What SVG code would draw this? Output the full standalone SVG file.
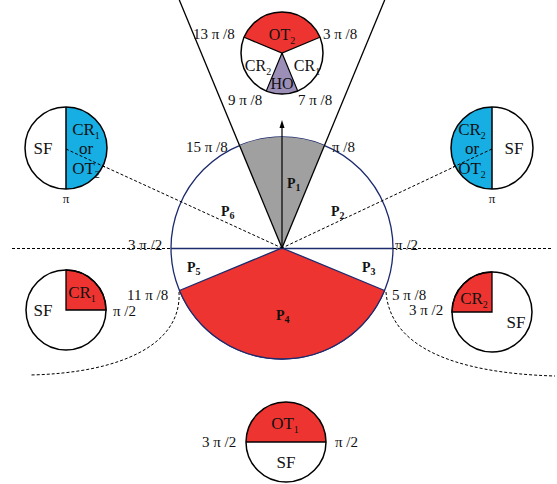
<svg xmlns="http://www.w3.org/2000/svg" width="557" height="484" viewBox="0 0 557 484">
<defs>
<style>
text{font-family:"Liberation Serif","Times New Roman",serif;fill:#111}
.ang{font-size:15px}
.lbl{font-size:17px}
.tl{font-size:16px}
.p{font-size:14px;font-weight:bold}
.sub{font-size:10px}
.ol{fill:none;stroke:#000;stroke-width:1.5}
.dash{fill:none;stroke:#000;stroke-width:1;stroke-dasharray:3,2}
.navy{stroke:#1c2a6e;stroke-width:1.3}
</style>
<marker id="ah" markerWidth="8" markerHeight="8" refX="4" refY="4" orient="auto" markerUnits="userSpaceOnUse">
<path d="M0,1.5 L8,4 L0,6.5 Z" fill="#000"/>
</marker>
</defs>
<rect width="557" height="484" fill="#fff"/>

<g id="main">
<circle cx="282" cy="248" r="111" fill="#fff" class="navy"/>
<path d="M282,248 L239.52,145.45 A111,111 0 0 1 324.48,145.45 Z" fill="#a0a0a0"/>
<path d="M282,248 L384.55,290.48 A111,111 0 0 1 179.45,290.48 Z" fill="#ee3430" class="navy"/>
<line x1="171" y1="248.5" x2="393" y2="248.5" class="navy"/>
<text class="p" x="287" y="188">P<tspan class="sub" dy="3">1</tspan></text>
<text class="p" x="331" y="216">P<tspan class="sub" dy="3">2</tspan></text>
<text class="p" x="362" y="272">P<tspan class="sub" dy="3">3</tspan></text>
<text class="p" x="276" y="320">P<tspan class="sub" dy="3">4</tspan></text>
<text class="p" x="187" y="272">P<tspan class="sub" dy="3">5</tspan></text>
<text class="p" x="221" y="216">P<tspan class="sub" dy="3">6</tspan></text>
</g>

<g id="connectors">
<line x1="282" y1="248" x2="179.3" y2="0" stroke="#000" stroke-width="1.3"/>
<line x1="282" y1="248" x2="384.7" y2="0" stroke="#000" stroke-width="1.3"/>
<line x1="282" y1="248" x2="282" y2="124" stroke="#000" stroke-width="1.2" marker-end="url(#ah)"/>
<line x1="12" y1="248.5" x2="171" y2="248.5" class="dash"/>
<line x1="393" y1="248.5" x2="553" y2="248.5" class="dash"/>
<path d="M179,292 C182,345 120,373 30,375" class="dash"/>
<path d="M386,292 C390,345 450,373 555,376" class="dash"/>
<line x1="66" y1="149" x2="282" y2="248" class="dash"/>
<line x1="492" y1="149" x2="282" y2="248" class="dash"/>
</g>

<g id="top-circle">
<circle cx="282" cy="53" r="41" fill="#fff"/>
<path d="M282,53 L244.12,37.31 A41,41 0 0 1 319.88,37.31 Z" fill="#ee3430"/>
<path d="M282,53 L297.69,90.88 A41,41 0 0 1 266.31,90.88 Z" fill="#9b8fb8"/>
<path d="M244.12,37.31 L282,53 L319.88,37.31 M282,53 L297.69,90.88 M282,53 L266.31,90.88" fill="none" stroke="#000" stroke-width="1.2"/>
<circle cx="282" cy="53" r="41" class="ol"/>
<text class="tl" x="282" y="40" text-anchor="middle">OT<tspan class="sub" dy="4">2</tspan></text>
<text class="tl" x="258" y="71" text-anchor="middle">CR<tspan class="sub" dy="4">2</tspan></text>
<text class="tl" x="307" y="71" text-anchor="middle">CR<tspan class="sub" dy="4">1</tspan></text>
<text class="tl" x="282" y="89" text-anchor="middle">HO</text>
</g>

<g id="left-circle">
<circle cx="66" cy="148" r="41" fill="#fff"/>
<path d="M66,107 A41,41 0 0 1 66,189 Z" fill="#16aee3"/>
<line x1="66" y1="107" x2="66" y2="189" stroke="#000" stroke-width="1.5"/>
<line x1="66" y1="149" x2="107" y2="168" class="dash"/>
<circle cx="66" cy="148" r="41" class="ol"/>
<text class="lbl" x="43" y="154" text-anchor="middle">SF</text>
<text class="lbl" x="86" y="135" text-anchor="middle">CR<tspan class="sub" dy="4">1</tspan></text>
<text class="lbl" x="86" y="154" text-anchor="middle">or</text>
<text class="lbl" x="86" y="174" text-anchor="middle">OT<tspan class="sub" dy="4">2</tspan></text>
<text x="66" y="203" text-anchor="middle" style="font-size:13px">π</text>
</g>

<g id="right-circle">
<circle cx="492" cy="148" r="41" fill="#fff"/>
<path d="M492,107 A41,41 0 0 0 492,189 Z" fill="#16aee3"/>
<line x1="492" y1="107" x2="492" y2="189" stroke="#000" stroke-width="1.5"/>
<line x1="492" y1="149" x2="451" y2="168" class="dash"/>
<circle cx="492" cy="148" r="41" class="ol"/>
<text class="lbl" x="514" y="154" text-anchor="middle">SF</text>
<text class="lbl" x="472" y="135" text-anchor="middle">CR<tspan class="sub" dy="4">2</tspan></text>
<text class="lbl" x="472" y="154" text-anchor="middle">or</text>
<text class="lbl" x="472" y="174" text-anchor="middle">OT<tspan class="sub" dy="4">2</tspan></text>
<text x="492" y="203" text-anchor="middle" style="font-size:13px">π</text>
</g>

<g id="bottom-left-circle">
<circle cx="66" cy="310" r="40" fill="#fff"/>
<path d="M66,310 L66,270 A40,40 0 0 1 106,310 Z" fill="#ee3430" stroke="#000" stroke-width="1.3"/>
<circle cx="66" cy="310" r="40" class="ol"/>
<text class="lbl" x="43" y="316" text-anchor="middle">SF</text>
<text class="lbl" x="82" y="298" text-anchor="middle">CR<tspan class="sub" dy="4">1</tspan></text>
</g>

<g id="bottom-right-circle">
<circle cx="492" cy="312" r="40" fill="#fff"/>
<path d="M492,312 L452,312 A40,40 0 0 1 492,272 Z" fill="#ee3430" stroke="#000" stroke-width="1.3"/>
<circle cx="492" cy="312" r="40" class="ol"/>
<text class="lbl" x="516" y="328" text-anchor="middle">SF</text>
<text class="lbl" x="474" y="304" text-anchor="middle">CR<tspan class="sub" dy="4">2</tspan></text>
</g>

<g id="bottom-circle">
<circle cx="286" cy="442" r="40" fill="#fff"/>
<path d="M246,442 A40,40 0 0 1 326,442 Z" fill="#ee3430"/>
<line x1="246" y1="442" x2="326" y2="442" stroke="#000" stroke-width="1.5"/>
<circle cx="286" cy="442" r="40" class="ol"/>
<text class="lbl" x="285" y="429" text-anchor="middle">OT<tspan class="sub" dy="4">1</tspan></text>
<text class="lbl" x="286" y="468" text-anchor="middle">SF</text>
</g>

<g id="angle-labels">
<text class="ang" x="193" y="39">13 π /8</text>
<text class="ang" x="323" y="39">3 π /8</text>
<text class="ang" x="228" y="105">9 π /8</text>
<text class="ang" x="298" y="105">7 π /8</text>
<text class="ang" x="186" y="152">15 π /8</text>
<text class="ang" x="332" y="152">π /8</text>
<text class="ang" x="128" y="250">3 π /2</text>
<text class="ang" x="395" y="250">π /2</text>
<text class="ang" x="127" y="300">11 π /8</text>
<text class="ang" x="113" y="316">π  /2</text>
<text class="ang" x="392" y="300">5 π /8</text>
<text class="ang" x="409" y="315">3 π  /2</text>
<text class="ang" x="202" y="447">3 π  /2</text>
<text class="ang" x="335" y="447">π  /2</text>
</g>
</svg>
